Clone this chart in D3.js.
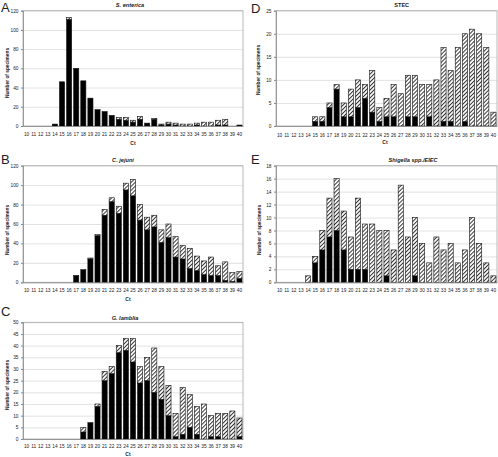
<!DOCTYPE html>
<html><head><meta charset="utf-8">
<script src="https://cdn.jsdelivr.net/npm/d3@7"></script>
<style>
body{margin:0;background:#fff}
svg{display:block}
text{font-family:"Liberation Sans",Arial,sans-serif;fill:#222}
</style>
</head><body>
<svg id="chart" width="498" height="457"></svg>
<script>
const categories = ["10","11","12","13","14","15","16","17","18","19","20","21","22","23","24","25","26","27","28","29","30","31","32","33","34","35","36","37","38","39","40"];

const entericaSolid   = [0,0,0,0,2,46,111,60,47,29,17,15,11,7,6,4,7,3,7,1,2,1,0,0,1,0,0,1,1,0,1];
const entericaHatched = [0,0,0,0,0,0,2,0,0,0,0,0,0,2,3,2,3,0,1,1,2,2,2,2,2,4,4,5,6,0,0];

const jejuniSolid   = [0,0,0,0,0,0,0,7,13,24,48,69,83,71,95,89,64,54,57,41,46,26,24,14,12,8,7,7,2,1,4];
const jejuniHatched = [0,0,0,0,0,0,0,0,0,1,1,6,4,7,7,17,16,13,12,13,14,21,14,21,15,14,19,10,19,9,7];

const lambliaSolid   = [0,0,0,0,0,0,0,0,3,7,14,25,28,37,38,33,24,25,20,17,10,1,2,5,2,0,1,1,0,0,1];
const lambliaHatched = [0,0,0,0,0,0,0,0,2,0,1,4,3,3,5,10,7,10,19,14,13,10,20,14,12,15,9,10,11,12,8];

const stecSolid   = [0,0,0,0,0,1,1,4,8,2,2,4,6,3,1,2,2,0,2,2,0,2,0,1,1,0,1,0,0,0,0];
const stecHatched = [0,0,0,0,0,1,1,1,1,3,6,6,3,9,3,4,7,7,9,9,9,7,10,16,11,17,19,21,20,17,3];

const shigellaSolid   = [0,0,0,0,0,3,5,7,8,5,2,2,2,0,0,1,0,0,0,1,0,0,0,0,0,0,0,0,0,0,0];
const shigellaHatched = [0,0,0,0,1,1,3,6,8,6,5,11,7,9,8,7,5,15,7,9,6,3,7,5,6,3,5,10,6,3,1];

const ticks120 = [0,20,40,60,80,100,120];
const ticks50  = [0,5,10,15,20,25,30,35,40,45,50];
const ticks25  = [0,5,10,15,20,25];
const ticks18  = [0,2,4,6,8,10,12,14,16,18];

const panels = [
  {letter:"A", title:"S. enterica", italic:true, solid:entericaSolid, hatched:entericaHatched, ticks:ticks120,
   x0:23, x1:243, y0:10.7, y1:126, lx:1, ly:12, tx:130, ty:6.5, yt:[7.5,73], ct:[133,144.5], xlab:135.5},
  {letter:"B", title:"C. jejuni", italic:true, solid:jejuniSolid, hatched:jejuniHatched, ticks:ticks120,
   x0:23, x1:243, y0:165.7, y1:282.3, lx:1, ly:164.3, tx:123, ty:162, yt:[7.5,230], ct:[128,301], xlab:292},
  {letter:"C", title:"G. lamblia", italic:true, solid:lambliaSolid, hatched:lambliaHatched, ticks:ticks50,
   x0:23, x1:243, y0:322.3, y1:439, lx:1, ly:315.7, tx:125, ty:319.5, yt:[7.5,385], ct:[128,456], xlab:447.5},
  {letter:"D", title:"STEC", italic:false, solid:stecSolid, hatched:stecHatched, ticks:ticks25,
   x0:276, x1:497, y0:10.7, y1:126, lx:251, ly:12.7, tx:401.7, ty:6.5, yt:[258.5,70], ct:[385,143.5], xlab:137},
  {letter:"E", title:"Shigella spp./EIEC", italic:true, solid:shigellaSolid, hatched:shigellaHatched, ticks:ticks18,
   x0:276, x1:497, y0:165.7, y1:282.3, lx:251, ly:164.3, tx:413, ty:162, yt:[259.5,230], ct:null, xlab:292}
];

const svg = d3.select("#chart");
const defs = svg.append("defs");
const pat = defs.append("pattern").attr("id","hatch")
  .attr("patternUnits","userSpaceOnUse").attr("width",2.8).attr("height",2.8)
  .attr("patternTransform","rotate(45)");
pat.append("rect").attr("width",2.8).attr("height",2.8).attr("fill","#fff");
pat.append("rect").attr("x",0).attr("width",1).attr("height",2.8).attr("fill","#333");

panels.forEach(p => {
  const g = svg.append("g");
  const ymax = p.ticks[p.ticks.length-1];
  const x = d3.scaleBand().domain(categories).range([p.x0,p.x1]).paddingInner(0.28).paddingOuter(0.14);
  const y = d3.scaleLinear().domain([0,ymax]).range([p.y1,p.y0]);

  // gridlines
  g.append("g").attr("transform",`translate(${p.x0},0)`)
    .call(d3.axisLeft(y).tickValues(p.ticks).tickSize(-(p.x1-p.x0)).tickFormat(""))
    .call(s => { s.select(".domain").remove(); s.selectAll("line").attr("stroke","#d6d6d6").attr("stroke-width",0.7); });

  // plot frame
  g.append("rect").attr("x",p.x0).attr("y",p.y0).attr("width",p.x1-p.x0).attr("height",p.y1-p.y0)
    .attr("fill","none").attr("stroke","#a8a8a8").attr("stroke-width",0.8);

  // stacked bars
  const rows = categories.map((c,i) => ({cat:c, solid:p.solid[i], hatched:p.hatched[i]}));
  const stacked = d3.stack().keys(["solid","hatched"])(rows);
  stacked.forEach(layer => {
    g.append("g").selectAll("rect").data(layer.filter(d => d[1]-d[0] > 0)).join("rect")
      .attr("x", d => x(d.data.cat))
      .attr("width", x.bandwidth())
      .attr("y", d => y(d[1]))
      .attr("height", d => y(d[0]) - y(d[1]))
      .attr("fill", layer.key === "solid" ? "#000" : "url(#hatch)")
      .attr("stroke","#111").attr("stroke-width",0.6);
  });

  // y axis
  g.append("g").attr("transform",`translate(${p.x0},0)`)
    .call(d3.axisLeft(y).tickValues(p.ticks).tickSize(2).tickPadding(2.5))
    .call(s => {
      s.select(".domain").attr("stroke","#888").attr("stroke-width",0.8);
      s.selectAll("line").attr("stroke","#888");
      s.selectAll("text").attr("font-size",4.8).style("font-family","'Liberation Sans',Arial,sans-serif").attr("fill","#222");
    });

  // x axis
  g.append("g").attr("transform",`translate(0,${p.y1})`)
    .call(d3.axisBottom(x).tickSize(0).tickPadding(0))
    .call(s => {
      s.select(".domain").attr("stroke","#888").attr("stroke-width",0.8);
      s.selectAll("text").attr("font-size",4.8).attr("dy",0).attr("y",p.xlab - p.y1)
        .style("font-family","'Liberation Sans',Arial,sans-serif").attr("fill","#222");
    });

  // letter
  g.append("text").attr("x",p.lx).attr("y",p.ly).attr("font-size",13).text(p.letter);
  // title
  g.append("text").attr("x",p.tx).attr("y",p.ty).attr("text-anchor","middle")
    .attr("font-size",5.6).attr("font-weight","bold").attr("font-style",p.italic?"italic":"normal").text(p.title);
  // y title
  g.append("text").attr("transform",`translate(${p.yt[0]},${p.yt[1]}) rotate(-90)`)
    .attr("text-anchor","middle").attr("dy","0.35em").attr("font-size",4.8).attr("font-weight","bold").text("Number of specimens");
  // x title
  if (p.ct) g.append("text").attr("x",p.ct[0]).attr("y",p.ct[1]).attr("text-anchor","middle")
    .attr("font-size",5).attr("font-weight","bold").text("Ct");
});
</script>
</body></html>
